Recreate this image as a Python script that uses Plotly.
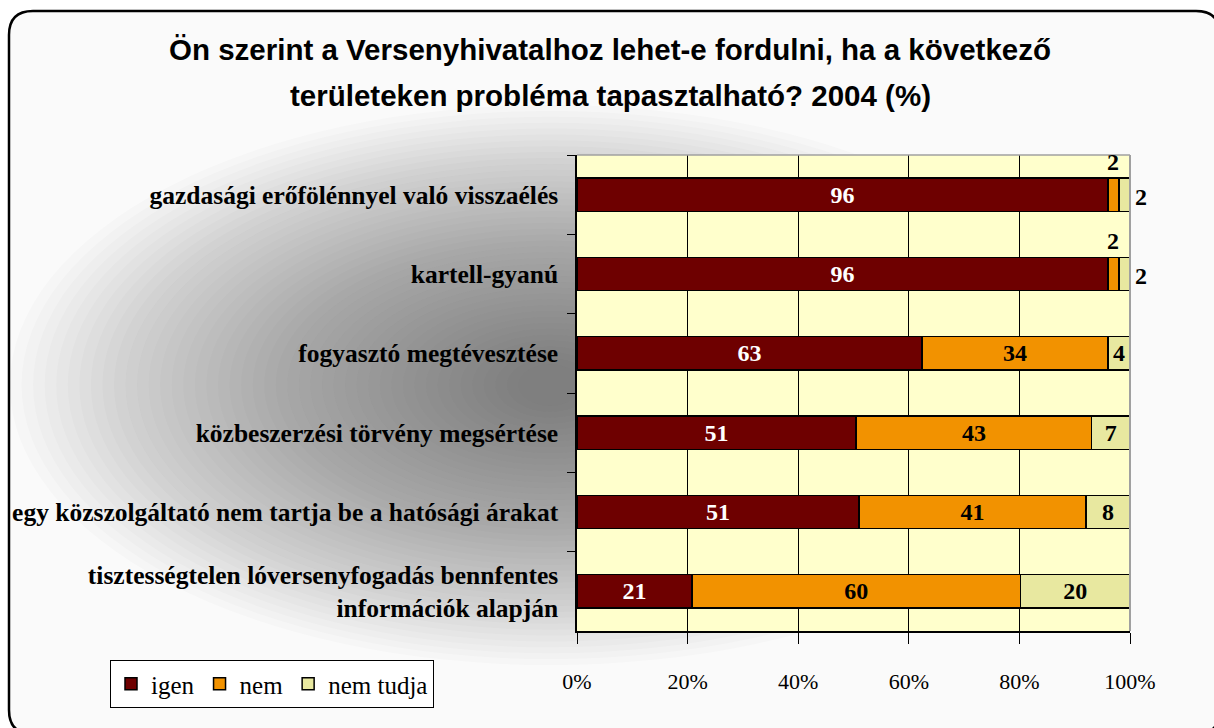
import plotly.graph_objects as go

categories = [
    "gazdasági erőfölénnyel való visszaélés",
    "kartell-gyanú",
    "fogyasztó megtévesztése",
    "közbeszerzési törvény megsértése",
    "egy közszolgáltató nem tartja be a hatósági árakat",
    "tisztességtelen lóversenyfogadás bennfentes<br>információk alapján",
]
series_names = ["igen", "nem", "nem tudja"]
igen = [96, 96, 63, 51, 51, 21]
nem = [2, 2, 34, 43, 41, 60]
nem_tudja = [2, 2, 4, 7, 8, 20]
tick_vals = [0, 20, 40, 60, 80, 100]
tick_text = ["0%", "20%", "40%", "60%", "80%", "100%"]
title_lines = [
    "Ön szerint a Versenyhivatalhoz lehet-e fordulni, ha a következő",
    "területeken probléma tapasztalható? 2004 (%)",
]

W, H = 1214, 728
L, R, T, B = 577, 1130, 155, 631


def xp(px):
    return (px - L) / (R - L)


def yp(py):
    return (B - py) / (B - T)


colors = ["#6E0000", "#F29200", "#E8E8A0"]
text_colors = ["white", "black", "black"]
SERIF = "Liberation Serif, Times New Roman, serif"
SANS = "Liberation Sans, Arial, sans-serif"

fig = go.Figure()
all_vals = [igen, nem, nem_tudja]
for name, vals, col, tc in zip(series_names, all_vals, colors, text_colors):
    labels = [str(v) if v >= 3 else "" for v in vals]
    fig.add_trace(go.Bar(
        name=name, y=categories, x=vals, orientation="h",
        marker=dict(color=col, line=dict(color="black", width=1.5)),
        text=labels, textposition="inside", insidetextanchor="middle",
        textangle=0,
        textfont=dict(family=SERIF, size=24, color=tc, weight="bold"),
        width=0.42,
    ))

# small-value labels placed outside, positioned via normalized data coords
annotations = []
for i, cat in enumerate(categories):
    tot = igen[i] + nem[i] + nem_tudja[i]
    if nem[i] < 3:
        xc = (igen[i] + nem[i] / 2) / tot * 100
        annotations.append(dict(x=xc, y=cat, xref="x", yref="y", text=str(nem[i]),
                                showarrow=False, yshift=33,
                                font=dict(family=SERIF, size=24, color="black", weight="bold")))
    if nem_tudja[i] < 3:
        annotations.append(dict(x=100, y=cat, xref="x", yref="y", text=str(nem_tudja[i]),
                                showarrow=False, xanchor="left", xshift=3, yshift=-2,
                                font=dict(family=SERIF, size=24, color="black", weight="bold")))

for k, line in enumerate(title_lines):
    annotations.append(dict(x=xp(610), y=yp(50 + 45 * k), xref="paper", yref="paper",
                            text=line, showarrow=False, xanchor="center", yanchor="middle",
                            font=dict(family=SANS, size=29.5, color="black", weight="bold")))

shapes = []
# outer rounded frame
x0, y0, x1, y1, r = 9, 11, 1220, 734, 24
path = (f"M {xp(x0+r)},{yp(y0)} L {xp(x1-r)},{yp(y0)} "
        f"Q {xp(x1)},{yp(y0)} {xp(x1)},{yp(y0+r)} L {xp(x1)},{yp(y1-r)} "
        f"Q {xp(x1)},{yp(y1)} {xp(x1-r)},{yp(y1)} L {xp(x0+r)},{yp(y1)} "
        f"Q {xp(x0)},{yp(y1)} {xp(x0)},{yp(y1-r)} L {xp(x0)},{yp(y0+r)} "
        f"Q {xp(x0)},{yp(y0)} {xp(x0+r)},{yp(y0)} Z")
shapes.append(dict(type="path", path=path, xref="paper", yref="paper",
                   fillcolor="#FAFAFA", line=dict(color="black", width=2.5), layer="below"))
# radial gray gradient approximation
N = 45
cx, cy = 550, 385
for i in range(N):
    s = 1 - i / N
    rx = 520 * s + 20
    ry = 265 * s + 15
    shapes.append(dict(type="circle", xref="paper", yref="paper",
                       x0=xp(cx - rx), x1=xp(cx + rx), y0=yp(cy + ry), y1=yp(cy - ry),
                       fillcolor="#555555", opacity=0.022, line=dict(width=0), layer="below"))
# plot area background
shapes.append(dict(type="rect", xref="paper", yref="paper", x0=0, x1=1, y0=0, y1=1,
                   fillcolor="#FFFFCC", line=dict(width=0), layer="below"))
# top and right border of plot area in gray
shapes.append(dict(type="line", xref="paper", yref="paper", x0=0, x1=1, y0=1, y1=1,
                   line=dict(color="#A0A0A0", width=1.5)))
shapes.append(dict(type="line", xref="paper", yref="paper", x0=1, x1=1, y0=0, y1=1,
                   line=dict(color="#A0A0A0", width=2)))

fig.update_layout(
    width=W, height=H,
    margin=dict(l=L, r=W - R, t=T, b=H - B, pad=0, autoexpand=False),
    barmode="stack", barnorm="percent",
    paper_bgcolor="white", plot_bgcolor="rgba(0,0,0,0)",
    showlegend=True,
    legend=dict(orientation="h", x=xp(110), y=yp(660), xanchor="left", yanchor="top",
                bgcolor="white", bordercolor="black", borderwidth=1,
                font=dict(family=SERIF, size=25, color="black"),
                itemwidth=30, traceorder="normal"),
    annotations=annotations,
    shapes=shapes,
    xaxis=dict(range=[0, 100], tickvals=tick_vals, ticktext=tick_text,
               showgrid=True, gridcolor="black", gridwidth=1,
               showline=True, linecolor="black", linewidth=1.5,
               ticks="outside", ticklen=11, tickcolor="black", tickwidth=1,
               ticklabelstandoff=19, automargin=False,
               tickfont=dict(family=SERIF, size=22, color="black"),
               zeroline=False, fixedrange=True),
    yaxis=dict(autorange="reversed", tickson="boundaries",
               showline=True, linecolor="black", linewidth=1.5,
               ticks="outside", ticklen=8, tickcolor="black", tickwidth=1,
               ticklabelstandoff=12, showgrid=False, automargin=False,
               tickfont=dict(family=SERIF, size=25.5, color="black", weight="bold"),
               fixedrange=True),
    uniformtext=dict(mode=False),
)

fig.write_html("out.html", config={"displayModeBar": False},
               post_script="document.body.style.margin='0px';document.body.style.overflow='hidden';")
